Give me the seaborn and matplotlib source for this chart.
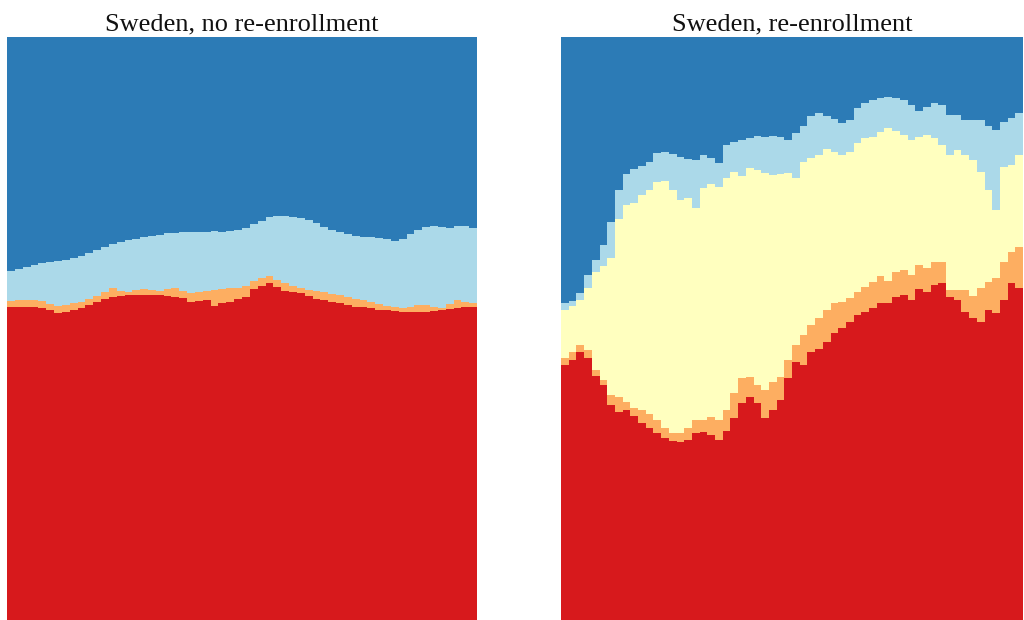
import numpy as np
import pandas as pd
import matplotlib
matplotlib.use("Agg")
import matplotlib.pyplot as plt
import seaborn as sns

# Share of the cohort (%) in each of five states, per time step.
# States are listed bottom to top of the stack.
states = ["state 1", "state 2", "state 3", "state 4", "state 5"]
state_colors = ["#d7191c", "#fdae61", "#ffffbf", "#abd9e9", "#2c7bb6"]

# Sweden, no re-enrollment
no_state1 = [53.7, 53.7, 53.7, 53.7, 53.5, 53.2, 52.7, 52.8, 53.2, 53.5,
             54.0, 54.5, 55.1, 55.4, 55.6, 55.7, 55.7, 55.7, 55.7, 55.7,
             55.6, 55.4, 55.2, 54.5, 54.7, 54.9, 53.9, 54.4, 54.5, 55.1,
             55.4, 56.8, 57.3, 57.8, 57.1, 56.4, 56.3, 56.1, 55.6, 55.1,
             54.9, 54.5, 54.4, 54.0, 53.7, 53.7, 53.5, 53.2, 53.2, 53.0,
             52.8, 52.8, 52.8, 52.8, 53.0, 53.2, 53.4, 53.5, 53.7, 53.7]
no_state2 = [1.0, 1.2, 1.2, 1.2, 1.2, 1.0, 1.2, 1.2, 1.2, 1.0,
             1.0, 1.0, 1.2, 1.5, 0.9, 0.5, 0.9, 1.0, 0.9, 0.7,
             1.2, 1.5, 1.2, 1.5, 1.5, 1.5, 2.7, 2.4, 2.4, 1.9,
             1.9, 1.4, 1.4, 1.2, 1.2, 1.4, 1.0, 0.9, 1.0, 1.4,
             1.4, 1.4, 1.4, 1.4, 1.4, 1.2, 1.0, 1.0, 0.7, 0.7,
             0.7, 0.9, 1.2, 1.2, 0.7, 0.3, 0.9, 1.4, 0.9, 0.7]
no_state3 = [0.0] * 60
no_state4 = [5.1, 5.3, 5.7, 6.0, 6.5, 7.2, 7.7, 7.7, 7.7, 7.9,
             7.9, 7.9, 7.7, 7.5, 8.4, 8.9, 8.7, 8.9, 9.3, 9.6,
             9.6, 9.4, 10.1, 10.5, 10.3, 10.1, 10.1, 9.8, 9.8, 9.9,
             9.9, 9.8, 9.8, 10.1, 11.0, 11.5, 11.8, 12.0, 12.0, 11.7,
             11.1, 11.0, 10.8, 10.8, 10.8, 10.8, 11.1, 11.3, 11.5, 11.3,
             11.8, 12.5, 12.9, 13.4, 13.9, 13.9, 13.0, 12.7, 13.0, 12.9]
no_state5 = [40.1, 39.8, 39.5, 39.1, 38.8, 38.6, 38.4, 38.3, 37.9, 37.6,
             37.1, 36.5, 36.0, 35.5, 35.2, 34.8, 34.6, 34.3, 34.1, 34.0,
             33.6, 33.6, 33.4, 33.4, 33.4, 33.4, 33.3, 33.4, 33.3, 33.1,
             32.8, 32.1, 31.6, 30.9, 30.7, 30.7, 30.9, 31.0, 31.4, 31.9,
             32.6, 33.1, 33.4, 33.8, 34.1, 34.3, 34.3, 34.5, 34.6, 35.0,
             34.6, 33.8, 33.1, 32.6, 32.4, 32.6, 32.8, 32.4, 32.4, 32.8]

# Sweden, re-enrollment
re_state1 = [43.7, 44.6, 46.0, 44.9, 41.9, 40.3, 36.9, 35.7, 36.0, 35.0,
             33.8, 32.9, 32.1, 31.2, 30.7, 30.5, 30.9, 32.1, 32.2, 31.7,
             30.9, 32.4, 34.6, 37.2, 38.3, 37.2, 34.6, 36.0, 37.7, 41.5,
             44.3, 43.7, 46.0, 46.5, 47.7, 49.2, 50.1, 51.1, 52.3, 52.8,
             53.5, 54.4, 54.4, 55.4, 55.7, 54.9, 56.8, 56.3, 57.5, 57.8,
             55.4, 54.9, 52.8, 51.8, 51.1, 53.2, 52.7, 54.9, 57.8, 56.9]
re_state2 = [1.2, 1.4, 1.2, 1.4, 1.0, 0.9, 1.7, 2.6, 1.4, 1.4,
             2.2, 2.4, 2.2, 1.7, 1.4, 1.5, 2.1, 2.2, 2.1, 3.1,
             3.4, 3.6, 4.3, 4.3, 3.3, 3.1, 4.8, 4.8, 3.9, 3.1,
             2.9, 5.1, 4.6, 5.3, 5.5, 5.1, 4.5, 4.1, 3.9, 4.3,
             4.5, 4.6, 3.8, 4.3, 4.3, 4.3, 4.1, 4.1, 3.9, 3.6,
             1.2, 1.7, 3.8, 3.8, 5.8, 4.8, 6.0, 6.5, 5.3, 7.0]
re_state3 = [8.2, 7.9, 7.7, 10.6, 16.8, 19.6, 23.5, 30.4, 33.8, 35.2,
             36.9, 38.4, 40.8, 42.4, 41.7, 40.0, 39.5, 36.4, 39.8, 40.0,
             40.0, 39.8, 37.9, 34.7, 36.0, 36.9, 37.2, 35.5, 34.8, 32.1,
             28.7, 29.7, 28.7, 28.0, 27.6, 25.9, 25.2, 25.0, 25.6, 25.6,
             24.9, 24.7, 26.2, 24.2, 23.2, 23.2, 22.0, 22.8, 21.3, 20.1,
             23.2, 24.0, 23.2, 23.3, 19.9, 15.8, 11.7, 16.3, 14.9, 15.8]
re_state4 = [1.2, 0.9, 1.2, 2.2, 2.1, 3.6, 6.2, 5.1, 5.3, 5.8,
             5.0, 4.8, 5.0, 5.0, 6.2, 7.4, 6.7, 8.2, 5.7, 4.5,
             4.1, 5.7, 5.1, 6.2, 5.1, 5.8, 6.2, 6.7, 6.3, 5.7,
             7.7, 6.2, 7.2, 7.2, 5.7, 5.7, 5.5, 5.5, 6.0, 6.0,
             6.3, 5.8, 5.3, 5.7, 6.0, 6.0, 4.5, 4.8, 6.0, 6.9,
             6.9, 6.0, 6.0, 6.9, 8.9, 11.0, 13.7, 7.7, 8.1, 7.2]
re_state5 = [45.6, 45.3, 43.9, 40.8, 38.3, 35.7, 31.7, 26.2, 23.5, 22.6,
             22.1, 21.4, 19.9, 19.7, 20.1, 20.6, 20.9, 21.1, 20.2, 20.8,
             21.6, 18.5, 18.0, 17.7, 17.3, 17.0, 17.2, 17.0, 17.2, 17.7,
             16.5, 15.3, 13.6, 13.0, 13.6, 14.1, 14.8, 14.2, 12.2, 11.3,
             10.8, 10.5, 10.3, 10.5, 10.8, 11.7, 12.7, 12.0, 11.3, 11.7,
             13.4, 13.4, 14.2, 14.2, 14.2, 15.3, 16.0, 14.6, 13.9, 13.0]

titles = ["Sweden, no re-enrollment", "Sweden, re-enrollment"]

palette = dict(zip(states, state_colors))


def long_frame(series):
    frames = []
    for state, values in zip(states, series):
        frames.append(pd.DataFrame({
            "period": np.arange(len(values)),
            "share": values,
            "state": state,
        }))
    return pd.concat(frames, ignore_index=True)


panels = [
    long_frame([no_state1, no_state2, no_state3, no_state4, no_state5]),
    long_frame([re_state1, re_state2, re_state3, re_state4, re_state5]),
]

sns.set_theme(style="white")
plt.rcParams["font.family"] = ["Liberation Serif", "DejaVu Serif"]

W, H = 1024, 620
fig = plt.figure(figsize=(W / 100, H / 100), dpi=100)
boxes = [(7, 470), (561, 462)]
top_px = 37

for (x0, w), df, title in zip(boxes, panels, titles):
    ax = fig.add_axes([x0 / W, 0, w / W, (H - top_px) / H])
    # seaborn stacks the first hue level on top, so pass states top-down
    sns.histplot(data=df, x="period", weights="share", hue="state",
                 hue_order=states[::-1], palette=palette,
                 multiple="fill", discrete=True, element="step",
                 alpha=1, linewidth=0, legend=False, ax=ax)
    n = df["period"].nunique()
    ax.set_xlim(-0.5, n - 0.5)
    ax.set_ylim(0, 1)
    ax.set_axis_off()
    ax.set_title(title, fontsize=19, pad=5, color="#111111")

fig.savefig("out.png", dpi=100)
